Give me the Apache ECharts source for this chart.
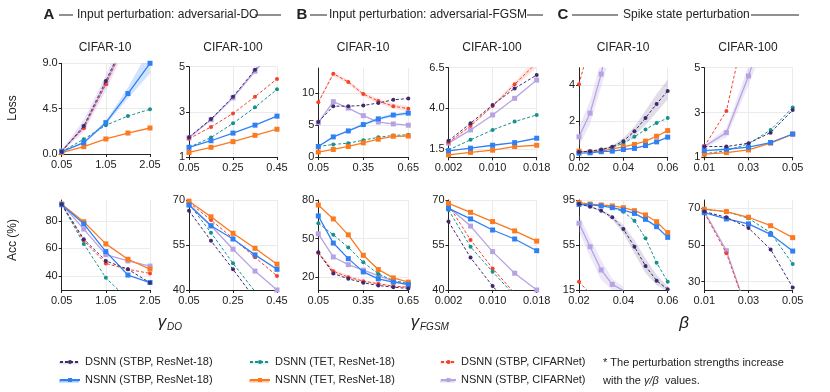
<!DOCTYPE html>
<html>
<head>
<meta charset="utf-8">
<script src="https://cdn.jsdelivr.net/npm/echarts@6.0.0/dist/echarts.min.js"></script>
<style>
  html, body { margin: 0; background: #fff; }
  #chart { width: 830px; height: 392px; }
</style>
</head>
<body>
<div id="chart"></div>
<script>
// x values per panel
const xDO10 = [0.05, 0.55, 1.05, 1.55, 2.05];
const xDO100 = [0.05, 0.15, 0.25, 0.35, 0.45];
const xFG10 = [0.05, 0.15, 0.25, 0.35, 0.45, 0.55, 0.65];
const xFG100 = [0.002, 0.006, 0.010, 0.014, 0.018];
const xSP10 = [0.02, 0.025, 0.03, 0.035, 0.04, 0.045, 0.05, 0.055, 0.06];
const xSP100 = [0.01, 0.02, 0.03, 0.04, 0.05];

// dR = DSNN (STBP, ResNet-18), nR = NSNN (STBP, ResNet-18), dT/nT = TET, dC/nC = CIFARNet
const lossDO10 = {
  dR: [0.23, 2.78, 7.25, 11.9, 16.5],
  nR: [0.23, 1.13, 3.11, 6.0, 9.0],
  dT: [0.23, 1.46, 2.85, 3.77, 4.44],
  nT: [0.13, 0.73, 1.49, 2.08, 2.58],
  dC: [0.33, 2.55, 6.92, 11.6, 16],
  nC: [0.3, 2.7, 7.0, 11.8, 16]
};
const lossDO100 = {
  dR: [1.88, 2.68, 3.67, 4.86, 6.0],
  nR: [1.43, 1.72, 2.06, 2.41, 2.81],
  dT: [1.43, 1.86, 2.49, 3.2, 4.0],
  nT: [1.2, 1.43, 1.68, 1.96, 2.23],
  dC: [1.81, 2.33, 2.93, 3.67, 4.46],
  nC: [1.85, 2.65, 3.62, 4.8, 5.9]
};
const lossFG10 = {
  dR: [5.5, 8.0, 8.0, 8.1, 8.5, 9.0, 9.2],
  nR: [1.66, 3.16, 4.1, 5.1, 6.0, 6.6, 6.9],
  dT: [1.66, 1.97, 2.18, 2.64, 3.1, 3.4, 3.5],
  nT: [0.78, 1.19, 1.66, 2.23, 2.8, 3.26, 3.3],
  dC: [8.6, 13.1, 11.8, 9.9, 8.8, 8.0, 7.6],
  nC: [5.4, 8.7, 7.7, 6.5, 5.5, 5.2, 5.0]
};
const lossFG100 = {
  dR: [2.01, 3.09, 4.21, 5.23, 6.05],
  nR: [1.4, 1.56, 1.74, 1.9, 2.17],
  dT: [1.45, 2.07, 2.68, 3.19, 3.6],
  nT: [1.15, 1.3, 1.44, 1.66, 1.74],
  dC: [1.91, 2.93, 4.15, 5.48, 6.8],
  nC: [1.87, 2.68, 3.6, 4.62, 5.74]
};
const lossSP10 = {
  dR: [0.31, 0.36, 0.45, 0.6, 0.91, 1.45, 2.18, 2.96, 3.67],
  nR: [0.25, 0.27, 0.33, 0.36, 0.45, 0.51, 0.67, 0.87, 1.13],
  dT: [0.31, 0.36, 0.42, 0.58, 0.78, 1.15, 1.55, 1.91, 2.18],
  nT: [0.36, 0.31, 0.36, 0.49, 0.6, 0.73, 0.91, 1.18, 1.49],
  dC: [4.04, 6.3, null, null, null, null, null, null, null],
  nC: [1.15, 2.45, 4.6, 7.5, null, null, null, null, null]
};
const lossSP100 = {
  dR: [1.48, 1.48, 1.63, 2.1, 3.11],
  nR: [1.3, 1.36, 1.45, 1.66, 2.04],
  dT: [1.15, 1.3, 1.6, 2.22, 3.22],
  nT: [1.14, 1.21, 1.33, 1.63, 2.03],
  dC: [1.48, 3.07, 7.5, null, null],
  nC: [1.48, 2.1, 4.63, 7.5, null]
};

const accDO10 = {
  dR: [92, 66.7, 51, 45, 35.2],
  nR: [91.6, 77.8, 57.7, 40.8, 35.4],
  dT: [92, 63.3, 38.8, 23.3, 12],
  nT: [92, 79.3, 63.3, 52.2, 45.1],
  dC: [91.6, 65.5, 49.2, 44.9, 42],
  nC: [92, 74, 55.5, 51, 47.3]
};
const accDO100 = {
  dR: [66.4, 56.4, 46.9, 37, 27],
  nR: [68.3, 61.4, 57, 51.7, 46.9],
  dT: [68.7, 59.1, 48.9, 39.5, 30],
  nT: [69.6, 64.4, 58.9, 53.9, 48.6],
  dC: [69.2, 63.3, 57.2, 50.9, 44.7],
  nC: [68.7, 61.4, 53.6, 46.3, 40]
};
const accFG10 = {
  dR: [39.3, 22.8, 18.7, 15.6, 13.5, 12.2, 11.2],
  nR: [67.6, 46.5, 34.4, 24.1, 18.7, 16.1, 14.3],
  dT: [62, 52.9, 43.1, 31.5, 22.5, 17.4, 15],
  nT: [76.1, 65.3, 52.9, 37, 25.9, 19.4, 16.1],
  dC: [38.8, 24.6, 20, 16.9, 14.8, 13, 12.2],
  nC: [53.7, 35.7, 29.7, 25.4, 21.2, 16.9, 13.8]
};
const accFG100 = {
  dR: [62.8, 50.8, 41.3, 33.2, 25],
  nR: [67.2, 63.7, 60, 57, 53.1],
  dT: [66.7, 54.4, 46.1, 38.1, 30],
  nT: [68.9, 65.9, 62.8, 59.7, 56.3],
  dC: [68.3, 56.7, 47.2, 38.9, 31],
  nC: [67.6, 61.3, 52.8, 45.6, 40]
};
const accSP10 = {
  dR: [91.4, 89.1, 85.5, 79.6, 69.2, 53.5, 36.3, 23.3, 15.6],
  nR: [91.1, 90.6, 89.7, 88.2, 86.1, 83.1, 77.8, 71.3, 61.8],
  dT: [92.6, 91.4, 90, 88.2, 84.6, 76.6, 60.9, 39.3, 22.4],
  nT: [92.6, 91.4, 90.6, 89.7, 88.2, 85.5, 81.7, 75.7, 66],
  dC: [22.4, 11.8, null, null, null, null, null, null, null],
  nC: [74.3, 53.5, 32.8, 20, 14.5, null, null, null, null]
};
const accSP100 = {
  dR: [68.2, 65.1, 59.3, 47.6, 26.9],
  nR: [67.6, 64.2, 61.5, 55.8, 46.7],
  dT: [69.5, 68.2, 64.5, 56.7, 39.6],
  nT: [69.5, 68.2, 65.1, 60.5, 54],
  dC: [67.6, 45.5, 11.7, null, null],
  nC: [68.2, 46.9, 12, null, null]
};

// shaded spread, [low, high] per point
const bandDO10lossNR = [[0.2, 0.26], [1.0, 1.25], [2.9, 3.3], [5.5, 6.6], [8, 10.5]];
const bandDO10lossNC = [[0.25, 0.35], [2.2, 3.4], [6.3, 7.8], [11, 13], [15, 17]];
const bandFG10lossDC = [[8.4, 8.8], [12.8, 13.4], [11.5, 12.1], [9.6, 10.2], [8.4, 9.2], [7.6, 8.4], [7.2, 8.0]];
const bandFG10lossNR = [[1.6, 1.72], [3.05, 3.27], [3.95, 4.25], [4.9, 5.3], [5.7, 6.3], [6.3, 6.9], [6.6, 7.2]];
const bandFG100lossDC = [[1.88, 1.94], [2.88, 2.98], [4.08, 4.22], [5.35, 5.62], [6.5, 7.1]];
const bandSP10lossDR = [[0.28, 0.34], [0.33, 0.39], [0.41, 0.49], [0.54, 0.67], [0.78, 1.08], [1.2, 1.72], [1.8, 2.6], [2.5, 3.5], [3.2, 4.3]];
const bandSP10lossNC = [[0.65, 1.7], [1.85, 3.1], [3.9, 5.4], [6, 9], null, null, null, null, null];
const bandSP100lossNC = [[1.42, 1.54], [1.9, 2.3], [4.2, 5.1], [6.8, 8.2], null];
const bandSP10accDR = [[90.8, 92], [88.4, 89.8], [84.5, 86.5], [77.5, 81.5], [65.5, 72.8], [47.5, 59.5], [30, 43], [19.5, 28.5], [13.5, 18]];
const bandSP10accNC = [[67, 81.7], [44.6, 61], [24, 41.7], [15, 25], [10, 18], null, null, null, null];
const bandFG10accDC = [[37.5, 40], [22.8, 26.4], [18.8, 21.2], [16, 17.8], [14, 15.6], [12.4, 13.6], [11.6, 12.8]];

const NAMES = {
  dR: 'DSNN (STBP, ResNet-18)', nR: 'NSNN (STBP, ResNet-18)',
  dT: 'DSNN (TET, ResNet-18)', nT: 'NSNN (TET, ResNet-18)',
  dC: 'DSNN (STBP, CIFARNet)', nC: 'NSNN (STBP, CIFARNet)'
};
const COLORS = {
  dR: '#3f2a70', nR: '#2f80f5', dT: '#15918e',
  nT: '#fb7a1f', dC: '#f5402a', nC: '#b7a3e4'
};
const ORDER = ['nC', 'dC', 'dT', 'nT', 'nR', 'dR'];
const FONT = 'Liberation Sans, Arial, sans-serif';

// grid layout: [left, top, width, height]
const panels = [
  { box: [61.7, 63.3, 88.3, 90.7], x: xDO10, d: lossDO10, xr: [0.05, 2.05], xt: [0.05, 1.05, 2.05], xd: 2, yr: [0, 9], yt: [0, 4.5, 9], yd: 1 },
  { box: [189, 66.7, 88, 90.3], x: xDO100, d: lossDO100, xr: [0.05, 0.45], xt: [0.05, 0.25, 0.45], xd: 2, yr: [1, 5], yt: [1, 3, 5], yd: 0 },
  { box: [318.3, 68, 90, 89], x: xFG10, d: lossFG10, xr: [0.05, 0.65], xt: [0.05, 0.35, 0.65], xd: 2, yr: [0, 14], yt: [0, 5, 10], yd: 0 },
  { box: [448.5, 67.7, 88.2, 89.6], x: xFG100, d: lossFG100, xr: [0.002, 0.018], xt: [0.002, 0.010, 0.018], xd: 3, yr: [1, 6.5], yt: [1.5, 4, 6.5], yd: 1 },
  { box: [579, 67.7, 88.7, 90], x: xSP10, d: lossSP10, xr: [0.02, 0.06], xt: [0.02, 0.04, 0.06], xd: 2, yr: [0, 4.95], yt: [0, 2, 4], yd: 0 },
  { box: [704.3, 67.7, 88.4, 89.6], x: xSP100, d: lossSP100, xr: [0.01, 0.05], xt: [0.01, 0.03, 0.05], xd: 2, yr: [1, 5], yt: [1, 3, 5], yd: 0 },
  { box: [61.7, 200, 88.3, 90], x: xDO10, d: accDO10, xr: [0.05, 2.05], xt: [0.05, 1.05, 2.05], xd: 2, yr: [30, 95], yt: [40, 60, 80], yd: 0 },
  { box: [189, 200, 88, 90], x: xDO100, d: accDO100, xr: [0.05, 0.45], xt: [0.05, 0.25, 0.45], xd: 2, yr: [40, 70], yt: [40, 55, 70], yd: 0 },
  { box: [318.3, 200, 90, 90], x: xFG10, d: accFG10, xr: [0.05, 0.65], xt: [0.05, 0.35, 0.65], xd: 2, yr: [10, 80], yt: [20, 50, 80], yd: 0 },
  { box: [448.5, 200, 88.2, 90], x: xFG100, d: accFG100, xr: [0.002, 0.018], xt: [0.002, 0.010, 0.018], xd: 3, yr: [40, 70], yt: [40, 55, 70], yd: 0 },
  { box: [579, 200, 88.7, 90], x: xSP10, d: accSP10, xr: [0.02, 0.06], xt: [0.02, 0.04, 0.06], xd: 2, yr: [15, 95], yt: [15, 55, 95], yd: 0 },
  { box: [704.3, 200, 88.4, 90], x: xSP100, d: accSP100, xr: [0.01, 0.05], xt: [0.01, 0.03, 0.05], xd: 2, yr: [25.5, 74.5], yt: [30, 50, 70], yd: 0 }
];

const bands = [
  { gi: 0, x: xDO10, b: bandDO10lossNR, color: 'rgba(47,128,245,0.22)' },
  { gi: 0, x: xDO10, b: bandDO10lossNC, color: 'rgba(183,163,228,0.3)' },
  { gi: 2, x: xFG10, b: bandFG10lossDC, color: 'rgba(245,64,42,0.15)' },
  { gi: 2, x: xFG10, b: bandFG10lossNR, color: 'rgba(47,128,245,0.15)' },
  { gi: 3, x: xFG100, b: bandFG100lossDC, color: 'rgba(245,64,42,0.15)' },
  { gi: 4, x: xSP10, b: bandSP10lossDR, color: 'rgba(63,42,112,0.16)' },
  { gi: 4, x: xSP10, b: bandSP10lossNC, color: 'rgba(183,163,228,0.25)' },
  { gi: 5, x: xSP100, b: bandSP100lossNC, color: 'rgba(183,163,228,0.25)' },
  { gi: 8, x: xFG10, b: bandFG10accDC, color: 'rgba(245,64,42,0.15)' },
  { gi: 10, x: xSP10, b: bandSP10accDR, color: 'rgba(63,42,112,0.16)' },
  { gi: 10, x: xSP10, b: bandSP10accNC, color: 'rgba(183,163,228,0.25)' }
];

const AXIS_COLOR = '#222';
const GRID_COLOR = '#ebebeb';

const grids = [], xAxes = [], yAxes = [], series = [];

panels.forEach((p, gi) => {
  grids.push({ left: p.box[0], top: p.box[1], width: p.box[2], height: p.box[3], containLabel: false, outerBoundsMode: 'none' });
  xAxes.push({
    gridIndex: gi, type: 'value', min: p.xr[0], max: p.xr[1],
    axisLine: { show: true, lineStyle: { color: AXIS_COLOR, width: 1 } },
    axisTick: { show: true, length: 3, customValues: p.xt, lineStyle: { color: AXIS_COLOR } },
    axisLabel: { customValues: p.xt, formatter: v => v.toFixed(p.xd), fontSize: 11, color: AXIS_COLOR, margin: 5, fontFamily: FONT },
    splitLine: { show: true, lineStyle: { color: GRID_COLOR, width: 1 } }
  });
  yAxes.push({
    gridIndex: gi, type: 'value', min: p.yr[0], max: p.yr[1],
    axisLine: { show: true, lineStyle: { color: AXIS_COLOR, width: 1 } },
    axisTick: { show: true, length: 3, customValues: p.yt, lineStyle: { color: AXIS_COLOR } },
    axisLabel: { customValues: p.yt, formatter: v => v.toFixed(p.yd), fontSize: 11, color: AXIS_COLOR, margin: 4, fontFamily: FONT },
    splitLine: { show: true, lineStyle: { color: GRID_COLOR, width: 1 } }
  });
  ORDER.forEach((key, k) => {
    const dsnn = key[0] === 'd';
    series.push({
      name: NAMES[key], type: 'line', xAxisIndex: gi, yAxisIndex: gi,
      data: p.x.map((v, i) => [v, p.d[key][i] == null ? '-' : p.d[key][i]]),
      color: COLORS[key],
      symbol: dsnn ? 'circle' : 'rect',
      symbolSize: dsnn ? 4 : 5,
      lineStyle: { width: dsnn ? 1 : 1.3, type: dsnn ? [3, 2] : 'solid', color: COLORS[key] },
      itemStyle: { color: COLORS[key] },
      z: 3 + k, silent: true, animation: false
    });
  });
});

// spread bands drawn as one polygon per band
bands.forEach(bd => {
  series.push({
    type: 'custom', xAxisIndex: bd.gi, yAxisIndex: bd.gi, clip: true, silent: true, animation: false, z: 1,
    data: bd.x.map((v, i) => [v, bd.b[i] ? bd.b[i][0] : 0, bd.b[i] ? bd.b[i][1] : 0]),
    encode: { x: 0, y: [1, 2] },
    renderItem: (params, api) => {
      if (params.dataIndex !== 0) return null;
      const up = [], lo = [];
      bd.x.forEach((v, i) => {
        if (!bd.b[i]) return;
        up.push(api.coord([v, bd.b[i][1]]));
        lo.unshift(api.coord([v, bd.b[i][0]]));
      });
      return { type: 'polygon', shape: { points: up.concat(lo) }, style: { fill: bd.color } };
    }
  });
});

function legendItem(key, left, top, w) {
  return {
    data: [NAMES[key]], left: left, top: top, padding: 0,
    itemWidth: w, itemHeight: 5,
    textStyle: { fontSize: 11, color: '#222', fontFamily: FONT },
    selectedMode: false
  };
}

function txt(x, y, text, size, extra) {
  return {
    type: 'text', x: x, y: y,
    style: Object.assign({ text: text, font: (size || 12) + 'px ' + FONT, fill: '#222', textAlign: 'center', textVerticalAlign: 'middle' }, extra || {})
  };
}
function hline(x1, x2, y) {
  return { type: 'line', shape: { x1: x1, y1: y, x2: x2, y2: y }, style: { stroke: '#222', lineWidth: 1 } };
}
function legendBar(x, w, y, color) {
  return { type: 'rect', z: 1, shape: { x: x, y: y - 1.5, width: w, height: 3 }, style: { fill: color } };
}

const graphics = [
  // section headers
  txt(49, 15, 'A', 15, { font: 'bold 15px ' + FONT }),
  hline(59, 73, 15),
  txt(77, 15, 'Input perturbation: adversarial-DO', 12, { textAlign: 'left' }),
  hline(255, 281, 15),
  txt(302, 15, 'B', 15, { font: 'bold 15px ' + FONT }),
  hline(310, 327, 15),
  txt(329, 15, 'Input perturbation: adversarial-FGSM', 12, { textAlign: 'left' }),
  hline(527, 543, 15),
  txt(563, 15, 'C', 15, { font: 'bold 15px ' + FONT }),
  hline(572, 618, 15),
  txt(623, 15, 'Spike state perturbation', 12, { textAlign: 'left' }),
  hline(751, 799, 15),
  // dataset titles
  txt(105, 48, 'CIFAR-10', 12), txt(233, 48, 'CIFAR-100', 12),
  txt(363, 48, 'CIFAR-10', 12), txt(492, 48, 'CIFAR-100', 12),
  txt(623, 48, 'CIFAR-10', 12), txt(748, 48, 'CIFAR-100', 12),
  // y names
  Object.assign(txt(13, 108, 'Loss', 12), { rotation: Math.PI / 2 }),
  Object.assign(txt(13, 240, 'Acc (%)', 12), { rotation: Math.PI / 2 }),
  // x names
  txt(162, 322, 'γ', 17, { font: 'italic 17px ' + FONT }),
  txt(167, 327, 'DO', 10, { font: 'italic 10px ' + FONT, textAlign: 'left' }),
  txt(415, 322, 'γ', 17, { font: 'italic 17px ' + FONT }),
  txt(420, 327, 'FGSM', 10, { font: 'italic 10px ' + FONT, textAlign: 'left' }),
  txt(684, 323, 'β', 17, { font: 'italic 17px ' + FONT }),
  // light spread bars behind legend icons
  legendBar(59, 20, 363, 'rgba(63,42,112,0.12)'),
  legendBar(59, 20, 381, 'rgba(47,128,245,0.45)'),
  legendBar(249, 20, 363, 'rgba(21,145,142,0.12)'),
  legendBar(249, 20, 381, 'rgba(251,122,31,0.45)'),
  legendBar(440, 15, 363, 'rgba(245,64,42,0.12)'),
  legendBar(440, 15, 381, 'rgba(183,163,228,0.45)'),
  // note
  txt(603, 363, '* The perturbation strengths increase', 11, { textAlign: 'left' }),
  {
    type: 'text', x: 603, y: 381,
    style: {
      text: 'with the {i|γ/β}  values.', font: '11px ' + FONT, fill: '#222', textAlign: 'left', textVerticalAlign: 'middle',
      rich: { i: { fontStyle: 'italic', fontSize: 11, fontFamily: FONT, fill: '#222' } }
    }
  }
];

const chart = echarts.init(document.getElementById('chart'), null, { renderer: 'canvas' });
chart.setOption({
  animation: false,
  backgroundColor: '#fff',
  textStyle: { fontFamily: FONT },
  grid: grids,
  xAxis: xAxes,
  yAxis: yAxes,
  legend: [
    legendItem('dR', 59, 356.5, 20),
    legendItem('nR', 59, 374.5, 20),
    legendItem('dT', 249, 356.5, 20),
    legendItem('nT', 249, 374.5, 20),
    legendItem('dC', 440, 356.5, 15),
    legendItem('nC', 440, 374.5, 15)
  ],
  graphic: graphics,
  series: series
});
</script>
</body>
</html>
